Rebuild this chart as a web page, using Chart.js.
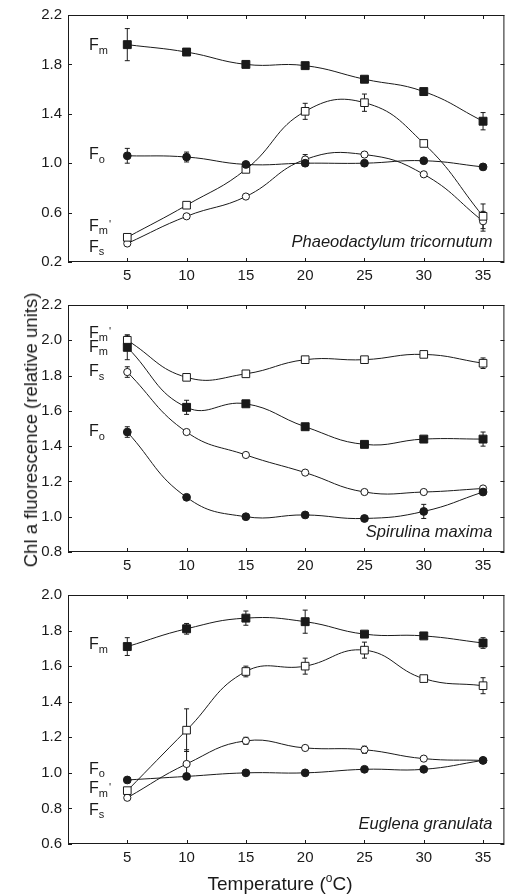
<!DOCTYPE html>
<html>
<head>
<meta charset="utf-8">
<script src="https://cdn.jsdelivr.net/npm/chart.js@4.4.1/dist/chart.umd.min.js"></script>
<style>
  body { margin: 0; background: #fff; }
  #wrap { position: relative; width: 511px; height: 895px; overflow: hidden;
          font-family: "Liberation Sans", Arial, sans-serif; color: #1a1a1a; }
  canvas { position: absolute; left: 0; }
  #ytitle { position: absolute; left: 31px; top: 430px; white-space: nowrap; font-size: 18.5px;
            transform: translate(-50%, -50%) rotate(-90deg); }
  #xtitle { position: absolute; left: 280px; top: 884px; white-space: nowrap; font-size: 19px;
            transform: translate(-50%, -50%); }
  #xtitle sup { font-size: 12px; vertical-align: 8px; line-height: 0; }
</style>
</head>
<body>
<div id="wrap">
  <canvas id="c1" width="511" height="290" style="top:0"></canvas>
  <canvas id="c2" width="511" height="290" style="top:290px"></canvas>
  <canvas id="c3" width="511" height="315" style="top:580px"></canvas>
  <div id="ytitle">Chl a fluorescence (relative units)</div>
  <div id="xtitle">Temperature (<sup>o</sup>C)</div>
</div>
<script>
const temps = [5, 10, 15, 20, 25, 30, 35];
const xTicks = [5, 10, 15, 20, 25, 30, 35];
const seriesNames = ["Fm", "Fo", "Fm'", "Fs"];

// Phaeodactylum tricornutum
const phaeoFm = [1.96, 1.90, 1.80, 1.79, 1.68, 1.58, 1.34];
const phaeoFmErr = [0.13, 0.02, 0, 0, 0.01, 0, 0.07];
const phaeoFo = [1.06, 1.05, 0.99, 1.00, 1.00, 1.02, 0.97];
const phaeoFoErr = [0.06, 0.04, 0, 0, 0, 0, 0];
const phaeoFmp = [0.40, 0.66, 0.95, 1.42, 1.49, 1.16, 0.57];
const phaeoFmpErr = [0, 0, 0, 0.065, 0.07, 0, 0.1];
const phaeoFs = [0.35, 0.57, 0.73, 1.03, 1.07, 0.91, 0.53];
const phaeoFsErr = [0, 0, 0, 0.04, 0.02, 0, 0.08];
const phaeoTicks = [0.2, 0.6, 1.0, 1.4, 1.8, 2.2];

// Spirulina maxima
const spiruFm = [1.96, 1.62, 1.64, 1.51, 1.41, 1.44, 1.44];
const spiruFmErr = [0.07, 0.04, 0, 0, 0, 0, 0.04];
const spiruFo = [1.48, 1.11, 1.00, 1.01, 0.99, 1.03, 1.14];
const spiruFoErr = [0.03, 0, 0, 0, 0, 0.04, 0];
const spiruFmp = [2.00, 1.79, 1.81, 1.89, 1.89, 1.92, 1.87];
const spiruFmpErr = [0.03, 0, 0, 0, 0, 0, 0.03];
const spiruFs = [1.82, 1.48, 1.35, 1.25, 1.14, 1.14, 1.16];
const spiruFsErr = [0.03, 0, 0, 0, 0, 0, 0];
const spiruTicks = [0.8, 1.0, 1.2, 1.4, 1.6, 1.8, 2.0, 2.2];

// Euglena granulata
const euglFm = [1.71, 1.81, 1.87, 1.85, 1.78, 1.77, 1.73];
const euglFmErr = [0.05, 0.03, 0.04, 0.065, 0, 0, 0.03];
const euglFo = [0.96, 0.98, 1.00, 1.00, 1.02, 1.02, 1.07];
const euglFoErr = [0, 0, 0, 0, 0, 0, 0];
const euglFmp = [0.90, 1.24, 1.57, 1.60, 1.69, 1.53, 1.49];
const euglFmpErr = [0, 0.12, 0.03, 0.045, 0.045, 0, 0.045];
const euglFs = [0.86, 1.05, 1.18, 1.14, 1.13, 1.08, 1.07];
const euglFsErr = [0, 0.08, 0.02, 0, 0.02, 0, 0];
const euglTicks = [0.6, 0.8, 1.0, 1.2, 1.4, 1.6, 1.8, 2.0];

const ink = "#1a1a1a";
const family = '"Liberation Sans", Arial, sans-serif';
Chart.defaults.font.family = family;
Chart.defaults.font.size = 15;
Chart.defaults.color = ink;

// marker look for Fm, Fo, Fm', Fs
const looks = [
  { style: "rect", radius: 5.6, fill: ink },
  { style: "circle", radius: 3.9, fill: ink },
  { style: "rect", radius: 5.4, fill: "#fff" },
  { style: "circle", radius: 3.6, fill: "#fff" },
];

const errorBars = {
  id: "errorBars",
  beforeDatasetsDraw(chart) {
    const { ctx, scales: { x, y } } = chart;
    ctx.save();
    ctx.strokeStyle = ink;
    ctx.lineWidth = 1;
    chart.data.datasets.forEach((ds) => {
      ds.data.forEach((p, i) => {
        const e = ds.err[i];
        if (!e) return;
        const px = x.getPixelForValue(p.x);
        const top = y.getPixelForValue(p.y + e);
        const bot = y.getPixelForValue(p.y - e);
        ctx.beginPath();
        ctx.moveTo(px, top); ctx.lineTo(px, bot);
        ctx.moveTo(px - 2.5, top); ctx.lineTo(px + 2.5, top);
        ctx.moveTo(px - 2.5, bot); ctx.lineTo(px + 2.5, bot);
        ctx.stroke();
      });
    });
    ctx.restore();
  },
};

const frame = {
  id: "frame",
  afterDraw(chart, args, opts) {
    const { ctx, chartArea: a, scales: { x, y } } = chart;
    ctx.save();
    ctx.strokeStyle = ink;
    ctx.lineWidth = 1;
    ctx.strokeRect(a.left + 0.5, a.top + 0.5, a.right - a.left - 1, a.bottom - a.top - 1);
    ctx.beginPath();
    xTicks.forEach((v) => {
      const px = Math.round(x.getPixelForValue(v)) + 0.5;
      ctx.moveTo(px, a.bottom); ctx.lineTo(px, a.bottom - 4);
      ctx.moveTo(px, a.top); ctx.lineTo(px, a.top + 4);
    });
    opts.yTicks.forEach((v) => {
      const py = Math.round(y.getPixelForValue(v)) + 0.5;
      ctx.moveTo(a.left, py); ctx.lineTo(a.left + 4, py);
      ctx.moveTo(a.right, py); ctx.lineTo(a.right - 4, py);
    });
    ctx.stroke();
    ctx.restore();
  },
};

function fLabel(ctx, px, py, name) {
  const sub = name.charAt(1);
  ctx.font = "16px " + family;
  ctx.fillText("F", px, py);
  const w = ctx.measureText("F").width;
  ctx.font = "11px " + family;
  ctx.fillText(sub, px + w, py + 5);
  if (name.endsWith("'")) {
    ctx.fillText("'", px + w + ctx.measureText(sub).width + 1, py - 1);
  }
}

const labels = {
  id: "labels",
  afterDraw(chart, args, opts) {
    const { ctx, chartArea: a, scales: { y } } = chart;
    ctx.save();
    ctx.fillStyle = ink;
    ctx.textBaseline = "middle";
    ctx.textAlign = "left";
    opts.at.forEach((v, i) => fLabel(ctx, a.left + 21, y.getPixelForValue(v), seriesNames[i]));
    ctx.font = "italic 16.5px " + family;
    ctx.textAlign = "right";
    ctx.fillText(opts.species, a.right - 12, a.bottom - 19.5);
    ctx.restore();
  },
};

function makePanel(id, species, values, errs, yTicks, labelAt, padTop, xHeight) {
  const datasets = values.map((vals, k) => ({
    label: seriesNames[k],
    data: temps.map((t, i) => ({ x: t, y: vals[i] })),
    err: errs[k],
    borderColor: ink,
    borderWidth: 1,
    tension: 0.45,
    pointStyle: looks[k].style,
    pointRadius: looks[k].radius,
    pointBackgroundColor: looks[k].fill,
    pointBorderColor: ink,
    pointBorderWidth: 1,
  }));
  return new Chart(document.getElementById(id), {
    type: "line",
    data: { datasets },
    options: {
      responsive: false,
      animation: false,
      layout: { padding: { top: padTop, right: 1, left: 0, bottom: 0 } },
      plugins: {
        legend: { display: false },
        tooltip: { enabled: false },
        frame: { yTicks },
        labels: { at: labelAt, species },
      },
      scales: {
        x: {
          type: "linear",
          min: 0,
          max: 36.8,
          afterBuildTicks: (s) => { s.ticks = xTicks.map((v) => ({ value: v })); },
          afterFit: (s) => { s.height = xHeight; },
          grid: { display: false, drawTicks: false },
          border: { display: false },
          ticks: { padding: 5, maxRotation: 0, callback: (v) => String(v) },
        },
        y: {
          min: yTicks[0],
          max: yTicks[yTicks.length - 1],
          afterBuildTicks: (s) => { s.ticks = yTicks.map((v) => ({ value: v })); },
          afterFit: (s) => { s.width = 68; },
          grid: { display: false, drawTicks: false },
          border: { display: false },
          ticks: { padding: 6, callback: (v) => v.toFixed(1) },
        },
      },
    },
    plugins: [errorBars, frame, labels],
  });
}

makePanel("c1", "Phaeodactylum tricornutum",
  [phaeoFm, phaeoFo, phaeoFmp, phaeoFs],
  [phaeoFmErr, phaeoFoErr, phaeoFmpErr, phaeoFsErr],
  phaeoTicks, [1.95, 1.07, 0.49, 0.32], 13, 28);

makePanel("c2", "Spirulina maxima",
  [spiruFm, spiruFo, spiruFmp, spiruFs],
  [spiruFmErr, spiruFoErr, spiruFmpErr, spiruFsErr],
  spiruTicks, [1.96, 1.48, 2.04, 1.82], 11, 28);

makePanel("c3", "Euglena granulata",
  [euglFm, euglFo, euglFmp, euglFs],
  [euglFmErr, euglFoErr, euglFmpErr, euglFsErr],
  euglTicks, [1.72, 1.02, 0.91, 0.79], 13, 51);
</script>
</body>
</html>
